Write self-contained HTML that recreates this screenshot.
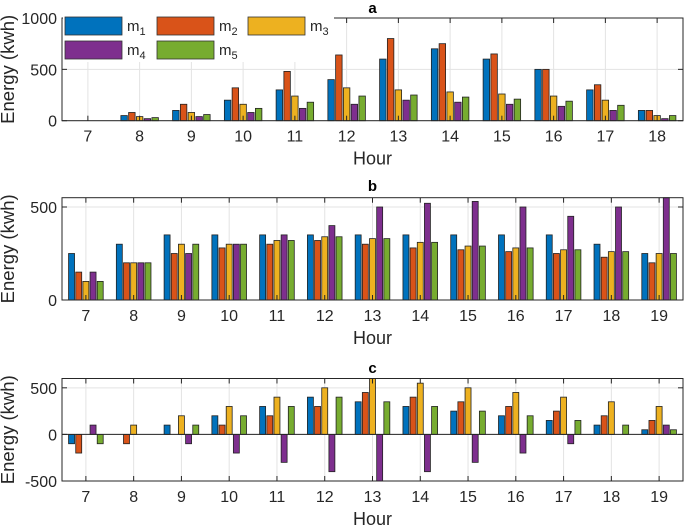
<!DOCTYPE html>
<html><head><meta charset="utf-8">
<style>
html,body{margin:0;padding:0;background:#fff;}
svg{display:block;font-family:"Liberation Sans",sans-serif;}
</style></head>
<body>
<svg id="chart" width="685" height="526" viewBox="0 0 685 526" xmlns="http://www.w3.org/2000/svg"></svg>
<script>
const seriesNames = ["m1","m2","m3","m4","m5"];
const colors = ["#0072BD","#D95319","#EDB120","#7E2F8E","#77AC30"];

const hoursA = [7,8,9,10,11,12,13,14,15,16,17,18];
const a_m1 = [0,50,100,200,300,400,600,700,600,500,300,100];
const a_m2 = [0,80,160,320,480,640,800,750,650,500,350,100];
const a_m3 = [0,40,80,160,240,320,300,280,260,240,200,50];
const a_m4 = [0,20,40,80,120,160,200,180,160,140,100,20];
const a_m5 = [0,30,60,120,180,240,250,230,210,190,150,50];
const ticksA = [0,500,1000];

const hoursB = [7,8,9,10,11,12,13,14,15,16,17,18,19];
const b_m1 = [250,300,350,350,350,350,350,350,350,350,350,300,250];
const b_m2 = [150,200,250,280,300,320,300,280,270,260,250,230,200];
const b_m3 = [100,200,300,300,320,340,330,310,290,280,270,260,250];
const b_m4 = [150,200,250,300,350,400,500,520,530,500,450,500,560];
const b_m5 = [100,200,300,300,320,340,330,310,290,280,270,260,250];
const ticksB = [0,500];

const hoursC = [7,8,9,10,11,12,13,14,15,16,17,18,19];
const c_m1 = [-100,0,100,200,300,400,350,300,250,200,150,100,50];
const c_m2 = [-200,-100,0,100,200,300,450,400,350,300,250,200,150];
const c_m3 = [0,100,200,300,400,500,600,550,500,450,400,350,300];
const c_m4 = [100,0,-100,-200,-300,-400,-500,-400,-300,-200,-100,0,100];
const c_m5 = [-100,0,100,200,300,400,350,300,250,200,150,100,50];
const ticksC = [-500,0,500];

const NS="http://www.w3.org/2000/svg";
const svg=document.getElementById('chart');
function mk(tag,attrs,parent){const e=document.createElementNS(NS,tag);for(const k in attrs)e.setAttribute(k,attrs[k]);(parent||svg).appendChild(e);return e;}

function panel(o){
  const g=mk('g',{});
  
  
  const L=62,R=683,T=o.top,B=o.bottom;
  const xs=v=>L+(v-o.xmin)/(o.xmax-o.xmin)*(R-L);
  const ys=v=>B-(v-o.ymin)/(o.ymax-o.ymin)*(B-T);
  o.hours.forEach(h=>{const l=mk('line',{x1:xs(h),x2:xs(h),y1:T,y2:B,stroke:'#e3e3e3','stroke-width':1},g);
    });
  o.ticks.forEach(t=>{const l=mk('line',{x1:L,x2:R,y1:ys(t),y2:ys(t),stroke:'#e3e3e3','stroke-width':1},g);
    });
  const pitch=0.15,bw=0.125;
  o.series.forEach((s,si)=>{
    s.forEach((v,i)=>{
      const c=o.hours[i]+(si-2)*pitch;
      const x0=xs(c-bw/2),x1=xs(c+bw/2);
      const vv=Math.max(o.ymin,Math.min(o.ymax,v));
      const y0=ys(Math.max(0,vv)),y1=ys(Math.min(0,vv));
      const r=mk('rect',{x:x0,y:y0,width:x1-x0,height:Math.max(0,y1-y0),fill:colors[si],stroke:'#222','stroke-width':0.8},g);
      
      
    });
  });
  const box=mk('rect',{x:L,y:T,width:R-L,height:B-T,fill:'none',stroke:'#262626','stroke-width':1},g);
  
  if(o.zeroLine){const z=mk('line',{x1:L,x2:R,y1:ys(0),y2:ys(0),stroke:'#262626','stroke-width':1},g);
    }
  o.hours.forEach(h=>{
    mk('line',{x1:xs(h),x2:xs(h),y1:B,y2:B-5,stroke:'#262626'},g);
    mk('line',{x1:xs(h),x2:xs(h),y1:T,y2:T+5,stroke:'#262626'},g);
    const t=mk('text',{x:xs(h),y:B+21,'text-anchor':'middle','font-size':16,fill:'#262626'},g);
    t.textContent=h;
  });
  o.ticks.forEach(v=>{
    mk('line',{x1:L,x2:L+5,y1:ys(v),y2:ys(v),stroke:'#262626'},g);
    mk('line',{x1:R,x2:R-5,y1:ys(v),y2:ys(v),stroke:'#262626'},g);
    const t=mk('text',{x:L-5,y:ys(v)+6,'text-anchor':'end','font-size':16,fill:'#262626'},g);
    t.textContent=v;
  });
  const ttl=mk('text',{x:(L+R)/2,y:o.titleY,'text-anchor':'middle','font-size':15,'font-weight':'bold',fill:'#000'},g);
  ttl.textContent=o.id;
  const xl=mk('text',{x:(L+R)/2,y:B+44,'text-anchor':'middle','font-size':18,fill:'#262626'},g);
  xl.textContent='Hour';
  const cy=(T+B)/2;
  const yl=mk('text',{x:14,y:cy,'text-anchor':'middle','font-size':18.5,fill:'#262626',transform:'rotate(-90 14 '+cy+')'},g);
  yl.textContent='Energy (kwh)';
  return g;
}

panel({id:'a',hours:hoursA,series:[a_m1,a_m2,a_m3,a_m4,a_m5],ticks:ticksA,xmin:6.5,xmax:18.5,ymin:0,ymax:1000,top:18,bottom:120.7,titleY:13});
panel({id:'b',hours:hoursB,series:[b_m1,b_m2,b_m3,b_m4,b_m5],ticks:ticksB,xmin:6.5,xmax:19.5,ymin:0,ymax:550,top:197.7,bottom:300,titleY:191});
panel({id:'c',hours:hoursC,series:[c_m1,c_m2,c_m3,c_m4,c_m5],ticks:ticksC,xmin:6.5,xmax:19.5,ymin:-500,ymax:600,top:378.5,bottom:481,titleY:373,zeroLine:true});

const lg=mk('g',{});


mk('rect',{x:63,y:12,width:271,height:50,fill:'#fff'},lg);
const pos=[[65,17],[157,17],[248,17],[65,41],[157,41]];
seriesNames.forEach((n,i)=>{
  const [x,y]=pos[i];
  const r=mk('rect',{x:x,y:y,width:57,height:18,fill:colors[i],stroke:'#333','stroke-width':0.8},lg);
  
  const t=mk('text',{x:x+62,y:y+14,'font-size':15,fill:'#262626'},lg);
  
  t.textContent='m';
  const s=mk('tspan',{'font-size':11,dy:4},t);s.textContent=n.slice(1);
});
</script>
</body></html>
